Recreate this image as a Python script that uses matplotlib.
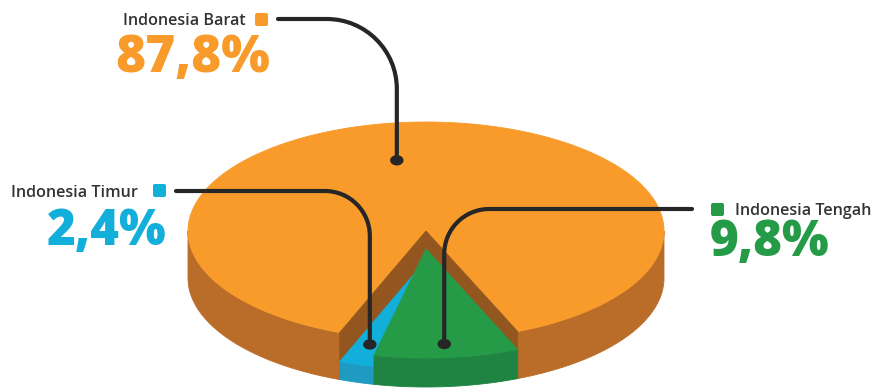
import numpy as np
import matplotlib.pyplot as plt
from matplotlib.patches import Polygon, Ellipse, PathPatch, FancyBboxPatch
from matplotlib.path import Path

plt.rcParams['font.family'] = ['Open Sans', 'DejaVu Sans']

# data
regions = ['Indonesia Barat', 'Indonesia Tengah', 'Indonesia Timur']
shares = [87.8, 9.8, 2.4]
labels = ['87,8%', '9,8%', '2,4%']

top_colors = ['#F89B2A', '#259B48', '#12AFDB']
side_colors = ['#BA6D28', '#1F8341', '#1F9AC1']
wall_color = '#93561F'
line_color = '#262626'

# pie geometry, in pixels
cx, cy0 = 426, 278        # centre of the base
rx, ry = 238, 109
heights = [47, 29, 18]    # Barat stands tall, the others are sunk
gap_mid = 89.3            # direction of the cut-out wedge


def pt(theta, r, z):
    t = np.radians(theta)
    return (cx + rx * r * np.cos(t), cy0 - z + ry * r * np.sin(t))


def side(ax, t1, t2, h, color):
    for k in (0, 360):
        lo, hi = max(t1, k), min(t2, k + 180)
        if hi <= lo:
            continue
        th = np.linspace(lo, hi, 100)
        top = [pt(t, 1, h) for t in th]
        bot = [pt(t, 1, 0) for t in th[::-1]]
        ax.add_patch(Polygon(top + bot, closed=True, fc=color, ec=color, lw=0.6))


def top_face(ax, t1, t2, h, color):
    th = np.linspace(t1, t2, 300)
    pts = [pt(0, 0, h)] + [pt(t, 1, h) for t in th]
    ax.add_patch(Polygon(pts, closed=True, fc=color, ec=color, lw=0.6))


def wall(ax, t, h, color):
    pts = [pt(t, 0, h), pt(t, 1, h), pt(t, 1, 0), pt(t, 0, 0)]
    ax.add_patch(Polygon(pts, closed=True, fc=color, ec=color, lw=0.6))


def leader(ax, x0, y0, xd, yd, r):
    s = np.sign(xd - x0)
    k = 0.5523 * r
    verts = [(x0, y0), (xd - s * r, y0),
             (xd - s * r + s * k, y0), (xd, y0 + r - k), (xd, y0 + r),
             (xd, yd)]
    codes = [Path.MOVETO, Path.LINETO, Path.CURVE4, Path.CURVE4, Path.CURVE4,
             Path.LINETO]
    ax.add_patch(PathPatch(Path(verts, codes), fc='none', ec=line_color,
                           lw=3.0, capstyle='round'))
    ax.add_patch(Ellipse((xd, yd), 12, 9, color=line_color, zorder=5))


fig = plt.figure(figsize=(8.75, 3.88), dpi=100)
ax = fig.add_axes([0, 0, 1, 1])
ax.set_xlim(0, 875)
ax.set_ylim(388, 0)
ax.axis('off')

# slice angles: Tengah and Timur fill the wedge, Barat takes the rest
cut = (shares[1] + shares[2]) * 3.6
a_teng = (gap_mid - cut / 2, gap_mid - cut / 2 + shares[1] * 3.6)
a_tim = (a_teng[1], a_teng[1] + shares[2] * 3.6)
a_bar = (a_tim[1], a_teng[0] + 360)
spans = [a_bar, a_teng, a_tim]

# Barat
side(ax, a_bar[0], a_bar[1], heights[0], side_colors[0])
top_face(ax, a_bar[0], a_bar[1], heights[0], top_colors[0])
wall(ax, a_bar[0], heights[0], wall_color)
wall(ax, a_bar[1], heights[0], wall_color)

# sunk slices
for i in (2, 1):
    side(ax, spans[i][0], spans[i][1], heights[i], side_colors[i])
    top_face(ax, spans[i][0], spans[i][1], heights[i], top_colors[i])

# leaders: start point, anchor (angle offset, radius), corner radius
starts = [(278, 19), (692, 209), (176, 191)]
anchors = [(-10, 0.66), (0, 0.875), (0, 0.81)]
corners = [70, 45, 45]
for i in range(3):
    mid = (spans[i][0] + spans[i][1]) / 2 + anchors[i][0]
    xd, yd = pt(mid, anchors[i][1], heights[i])
    leader(ax, starts[i][0], starts[i][1], xd, yd, corners[i])

# label blocks
squares = [(255, 13), (711, 203), (153, 184)]
name_pos = [(246, 25, 'right'), (735, 215, 'left'), (138, 197, 'right')]
num_pos = [(270, 72, 'right'), (710, 256, 'left'), (167, 245, 'right')]
num_size = [37, 35.5, 35.5]
for i in range(3):
    sx, sy = squares[i]
    ax.add_patch(FancyBboxPatch((sx, sy), 13, 13,
                                boxstyle='round,pad=0,rounding_size=2',
                                fc=top_colors[i], ec='none'))
    x, y, ha = name_pos[i]
    ax.text(x, y, regions[i], ha=ha, va='baseline', fontsize=11.6,
            fontweight='semibold', color='#333333')
    x, y, ha = num_pos[i]
    ax.text(x, y, labels[i], ha=ha, va='baseline', fontsize=num_size[i],
            fontweight='heavy', color=top_colors[i])

fig.savefig('out.png', dpi=100, facecolor='white')
